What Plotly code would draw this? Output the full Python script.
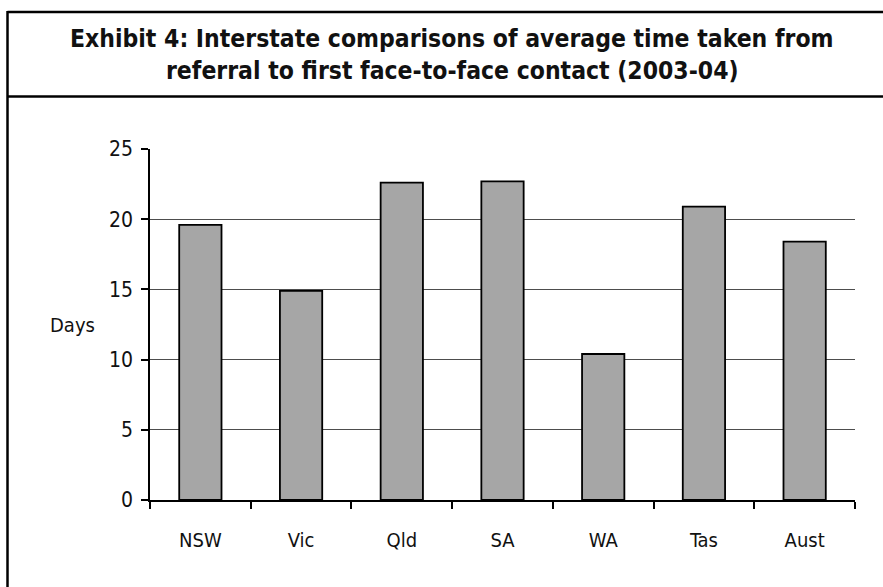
import plotly.graph_objects as go

# Average days from referral to first face-to-face contact, 2003-04
states = ["NSW", "Vic", "Qld", "SA", "WA", "Tas", "Aust"]
days = [19.6, 14.9, 22.6, 22.7, 10.4, 20.9, 18.4]
y_ticks = [0, 5, 10, 15, 20, 25]

title_lines = [
    "Exhibit 4: Interstate comparisons of average time taken from",
    "referral to first face-to-face contact (2003-04)",
]

W, H = 883, 587
L, R, T, B = 150, 28, 149, 87
FONT = "DejaVu Sans Condensed, Liberation Sans Narrow, DejaVu Sans, sans-serif"


def px_x(p):
    return (p - L) / (W - L - R)


def px_y(p):
    return (H - B - p) / (H - T - B)


fig = go.Figure(
    go.Bar(
        x=states,
        y=days,
        width=0.42,
        marker=dict(color="#a6a6a6", line=dict(color="#000000", width=1.8)),
        hoverinfo="x+y",
    )
)

# frame around the exhibit: left edge, top edge, and the rule under the title
frame = dict(color="#000000", width=2.5)
shapes = [
    dict(type="line", xref="paper", yref="paper",
         x0=px_x(7.5), x1=px_x(W + 5), y0=px_y(12), y1=px_y(12), line=frame),
    dict(type="line", xref="paper", yref="paper",
         x0=px_x(7.5), x1=px_x(W + 5), y0=px_y(96.5), y1=px_y(96.5), line=frame),
    dict(type="line", xref="paper", yref="paper",
         x0=px_x(7.5), x1=px_x(7.5), y0=px_y(11), y1=px_y(H + 5), line=frame),
]

title_font = dict(family=FONT, size=24.5, color="#111111", weight="bold")
annotations = [
    dict(text=title_lines[0], xref="paper", yref="paper",
         x=px_x(452), y=px_y(38), xanchor="center", yanchor="middle",
         showarrow=False, font=title_font),
    dict(text=title_lines[1], xref="paper", yref="paper",
         x=px_x(452), y=px_y(71), xanchor="center", yanchor="middle",
         showarrow=False, font=title_font),
    dict(text="Days", xref="paper", yref="paper",
         x=px_x(72), y=px_y(325), xanchor="center", yanchor="middle",
         showarrow=False, font=dict(family=FONT, size=20, color="#111111")),
]

fig.update_layout(
    width=W, height=H,
    margin=dict(l=L, r=R, t=T, b=B, pad=0),
    paper_bgcolor="#ffffff", plot_bgcolor="#ffffff",
    showlegend=False,
    bargap=0.58,
    shapes=shapes,
    annotations=annotations,
    font=dict(family=FONT, size=21, color="#111111"),
)

fig.update_xaxes(
    type="category",
    showline=True, linecolor="#000000", linewidth=1.5,
    ticks="outside", tickson="boundaries", ticklen=7, tickcolor="#000000", tickwidth=1.5,
    ticklabelstandoff=21,
    tickfont=dict(size=20),
    showgrid=False, zeroline=False,
)

fig.update_yaxes(
    range=[0, 25],
    tickvals=y_ticks,
    showline=True, linecolor="#000000", linewidth=1.5,
    ticks="outside", ticklen=7, tickcolor="#000000", tickwidth=1.5,
    ticklabelstandoff=4,
    showgrid=True, gridcolor="#4d4d4d", gridwidth=1.2,
    zeroline=False,
)

fig.write_html("out.html")
